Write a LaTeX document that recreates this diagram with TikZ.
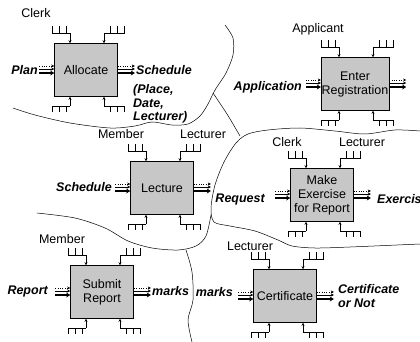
\documentclass[tikz,border=0pt]{standalone}
\usepackage{fontspec}
\setmainfont{Liberation Sans}
\usetikzlibrary{calc,arrows.meta}

\tikzset{
  box/.style={draw, line width=0.6pt, fill=black!22, minimum width=63pt, minimum height=53pt,
    align=center, inner sep=0.5pt, font=\fontsize{12.5}{14}\selectfont},
  role/.style={inner sep=1pt, font=\fontsize{12.5}{14}\selectfont},
  flow/.style={inner sep=1pt, align=left, font=\fontsize{12.5}{13.5}\selectfont\bfseries\itshape},
  comb/.style={line width=0.4pt},
  icom/.style={-{Stealth[length=3pt,width=3pt]}},
  split/.style={line width=0.5pt},
}

\begin{document}
\begin{tikzpicture}[x=1pt, y=-1pt]
\useasboundingbox (0,0) rectangle (420,342);

% boundaries
\draw [split] plot [smooth] coordinates {(13,108) (35,115) (70,123) (110,128) (135,126) (152,122)
  (172,125) (188,124) (200,116) (208,104) (215,90) (226,73) (233,55) (233,38) (225,25)};
\draw [split] plot [smooth] coordinates {(213,93) (227,114) (240,136)};
\draw [split] plot [smooth] coordinates {(420,131) (395,130) (365,134) (335,131) (300,128) (268,130)
  (248,134) (236,143) (224,162) (215,185) (211,208) (214,222) (230,226) (255,231) (278,240)
  (292,246) (315,248) (350,247) (420,244)};
\draw [split] plot [smooth] coordinates {(37,213) (75,218) (105,228) (128,241) (152,248) (178,250)
  (196,246) (206,236) (211,215)};
\draw [split] plot [smooth] coordinates {(186,250) (192,272) (193,300) (188,320) (192,342)};

% activities
\node [box] (alloc)  at (86,70)   {Allocate};
\node [box] (enter)  at (355,84)  {Enter\\Registration};
\node [box] (lect)   at (162,188) {Lecture};
\node [box] (exer)   at (322,195) {Make\\Exercise\\for Report};
\node [box] (submit) at (102,292) {Submit\\Report};
\node [box] (cert)   at (285,296) {Certificate};

% combs and flows round each box
\foreach \b in {alloc,enter,lect,exer,submit,cert} {
  \begin{scope}[shift={(\b.north)}]
    \draw [comb] (-34,-17) -- (-34,-10) -- (-16,-10) (-27,-17) -- (-27,-10) (-20,-17) -- (-20,-10);
    \draw [comb, icom] (-16,-10) -- (-16,0);
    \draw [comb] (38,-17) -- (38,-10) -- (18,-10) (31,-17) -- (31,-10) (24,-17) -- (24,-10);
    \draw [comb, icom] (18,-10) -- (18,0);
  \end{scope}
  \begin{scope}[shift={(\b.south)}]
    \draw [comb] (-34,15) -- (-34,9) -- (-16,9) (-27,15) -- (-27,9) (-20,15) -- (-20,9);
    \draw [comb, icom] (-16,9) -- (-16,0);
    \draw [comb] (38,15) -- (38,9) -- (18,9) (31,15) -- (31,9) (24,15) -- (24,9);
    \draw [comb, icom] (18,9) -- (18,0);
  \end{scope}
  \begin{scope}[shift={(\b.west)}]
    \draw [comb, dotted, icom] (-15,-4) -- (0,-4);
    \draw [comb, icom] (-15,-1) -- (0,-1);
    \draw [line width=1.8pt, -{Stealth[length=4pt,width=5pt]}] (-15,3) -- (0,3);
  \end{scope}
  \begin{scope}[shift={(\b.east)}]
    \draw [comb, dotted, icom] (0,-4) -- (17,-4);
    \draw [comb, icom] (0,-1) -- (17,-1);
    \draw [line width=1.8pt, -{Stealth[length=4pt,width=5pt]}] (0,3) -- (17,3);
  \end{scope}
}

% mechanisms
\node [role] (clerk1)  at (36,13)   {Clerk};
\node [role] (applic)  at (318,29)  {Applicant};
\node [role] (member1) at (121,134) {Member};
\node [role] (lectr1)  at (203,134) {Lecturer};
\node [role] (clerk2)  at (287,142) {Clerk};
\node [role] (lectr2)  at (362,142) {Lecturer};
\node [role] (member2) at (62,239)  {Member};
\node [role] (lectr3)  at (250,246) {Lecturer};

% inputs and outputs
\node [flow, anchor=east] (plan)   at (39,70)   {Plan};
\node [flow, anchor=west] (sched1) at (135,70)  {Schedule};
\node [flow, anchor=west] (place)  at (132,104) {(Place,\\Date,\\Lecturer)};
\node [flow, anchor=east] (appl)   at (303,87)  {Application};
\node [flow, anchor=east] (sched2) at (113,187) {Schedule};
\node [flow, anchor=east] (req)    at (266,199) {Request};
\node [flow, anchor=west] (exerc)  at (376,199) {Exercise};
\node [flow, anchor=east] (report) at (49,291)  {Report};
\node [flow, anchor=west] (marks1) at (151,291) {marks};
\node [flow, anchor=east] (marks2) at (234,292) {marks};
\node [flow, anchor=west] (certif) at (337,296) {Certificate\\or Not};
\end{tikzpicture}
\end{document}
